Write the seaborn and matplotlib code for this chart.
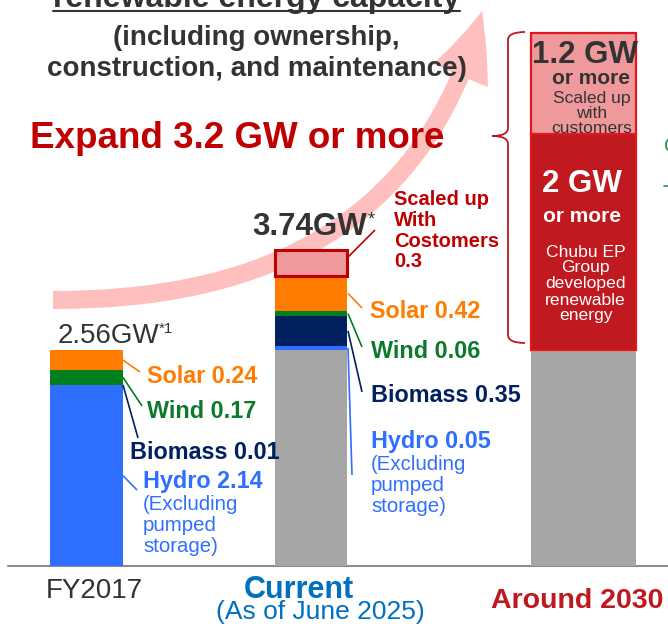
import numpy as np
import pandas as pd
import matplotlib
matplotlib.use("Agg")
import matplotlib.pyplot as plt
import seaborn as sns
from matplotlib.path import Path
from matplotlib.patches import FancyArrowPatch, PathPatch

# ---------------- data ----------------
periods = ["FY2017", "Current", "Around 2030"]
fy2017_segments = ["Hydro", "Biomass", "Wind", "Solar"]
fy2017_values = [2.14, 0.01, 0.17, 0.24]
current_segments = ["Base", "Hydro", "Biomass", "Wind", "Solar", "Customers"]
current_values = [2.56, 0.05, 0.35, 0.06, 0.42, 0.30]
y2030_segments = ["Base", "Group", "Customers"]
# drawn heights (labels: "2 GW or more", "1.2 GW or more")
y2030_values = [2.56, 2.56, 1.2]
fy2017_labels = ["Hydro 2.14", "Biomass 0.01", "Wind 0.17", "Solar 0.24"]
current_labels = ["Hydro 0.05", "Biomass 0.35", "Wind 0.06", "Solar 0.42"]
total_labels = ["2.56GW", "3.74GW"]

seg_colors = {"Base": "#a6a6a6", "Hydro": "#2f6fff", "Biomass": "#002060",
              "Wind": "#00801f", "Solar": "#ff7c00", "Customers": "#f0999c",
              "Group": "#c0191f"}
text_colors = {"Hydro": "#2f6fff", "Biomass": "#002060", "Wind": "#0b7a2b",
               "Solar": "#ff7c00"}

rows = []
for p, segs, vals in zip(periods, [fy2017_segments, current_segments, y2030_segments],
                         [fy2017_values, current_values, y2030_values]):
    b = 0.0
    for s, v in zip(segs, vals):
        rows.append(dict(period=p, segment=s, value=v, bottom=b))
        b += v
df = pd.DataFrame(rows)

# ---------------- layout ----------------
W, H = 668, 627
BASE = 566.0      # pixel row of the baseline
K = 84.4          # pixels per GW
bar_x = {"FY2017": 86.5, "Current": 311.0, "Around 2030": 583.5}
bar_w = {"FY2017": 73.0, "Current": 72.0, "Around 2030": 105.0}


def dy(py):
    return (BASE - py) / K


sns.set_style("white")
plt.rcParams["font.family"] = ["Liberation Sans", "DejaVu Sans"]

fig = plt.figure(figsize=(W / 100, H / 100), dpi=100)
ax = fig.add_axes([0, 0, 1, 1])

# big pink arrow (behind everything)
P0, P1, P2 = (53, 300), (406.7, 301), (482, 11)
arrow_path = Path([(P0[0], dy(P0[1])), (P1[0], dy(P1[1])), (P2[0], dy(P2[1]))],
                  [Path.MOVETO, Path.CURVE3, Path.CURVE3])
arrow = FancyArrowPatch(path=arrow_path, transform=ax.transData,
                        arrowstyle="simple,head_length=49,head_width=43,tail_width=13",
                        mutation_scale=1, color="#ffbfbf", lw=0, zorder=0)
ax.add_patch(arrow)

# stacked bars
for _, r in df.iterrows():
    ec, lw = "none", 0
    if r.segment == "Customers" and r.period == "Current":
        ec, lw = "#c00000", 2.2
    elif r.period == "Around 2030" and r.segment in ("Customers", "Group"):
        ec, lw = "#e3161e", 1.6
    sns.barplot(x=[bar_x[r.period]], y=[r.value], bottom=r.bottom,
                width=bar_w[r.period], native_scale=True,
                color=seg_colors[r.segment], saturation=1, errorbar=None,
                edgecolor=ec, linewidth=lw, ax=ax, zorder=2)

ax.axhline(0, xmin=8 / W, xmax=1, color="#8c8c8c", lw=1.5, zorder=1)


def T(px, py, s, **kw):
    kw.setdefault("va", "baseline")
    kw.setdefault("zorder", 4)
    ax.text(px, dy(py), s, **kw)


def L(x0, y0, x1, py1, color):
    ax.plot([x0, x1], [y0, dy(py1)], color=color, lw=1.2, zorder=3,
            solid_capstyle="butt")


DARK = "#333333"
RED = "#c00000"

# titles
T(256.5, 7, "renewable energy capacity", ha="center", fontsize=23,
  fontweight="bold", color=DARK)
ax.plot([53, 460], [dy(11), dy(11)], color=DARK, lw=1.5, zorder=4)
T(256.5, 45, "(including ownership,", ha="center", fontsize=20,
  fontweight="bold", color=DARK)
T(256.5, 76, "construction, and maintenance)", ha="center", fontsize=20,
  fontweight="bold", color=DARK)
T(237.5, 148, "Expand 3.2 GW or more", ha="center", fontsize=26.5,
  fontweight="bold", color=RED)

# ---------------- FY2017 annotations ----------------
sub = df[df.period == "FY2017"].set_index("segment")
xr = bar_x["FY2017"] + bar_w["FY2017"] / 2
mid = lambda s, d: d.loc[s, "bottom"] + d.loc[s, "value"] / 2
L(xr, mid("Solar", sub), 140, 372, seg_colors["Solar"])
L(xr, mid("Wind", sub), 142, 406, seg_colors["Wind"])
L(xr, mid("Biomass", sub), 138, 438, seg_colors["Biomass"])
L(xr, mid("Hydro", sub), 137, 490, seg_colors["Hydro"])
T(147, 383, fy2017_labels[3], fontsize=16.8, fontweight="bold", color=text_colors["Solar"])
T(147, 418, fy2017_labels[2], fontsize=16.8, fontweight="bold", color=text_colors["Wind"])
T(130, 459, fy2017_labels[1], fontsize=16.8, fontweight="bold", color=text_colors["Biomass"])
T(143, 488, fy2017_labels[0], fontsize=16.8, fontweight="bold", color=text_colors["Hydro"])
for py, s in zip([510, 531, 552], ["(Excluding", "pumped", "storage)"]):
    T(143, py, s, fontsize=14.7, color=text_colors["Hydro"])
T(58, 343, total_labels[0], fontsize=20, color=DARK)
T(159, 333, "*1", fontsize=11, color=DARK)

# ---------------- Current annotations ----------------
sub = df[df.period == "Current"].set_index("segment")
xr = bar_x["Current"] + bar_w["Current"] / 2 + 1
L(xr, sub.loc["Customers", "bottom"] + 0.22, 375, 230, RED)
L(xr, mid("Solar", sub), 362, 308, seg_colors["Solar"])
L(xr, mid("Wind", sub), 362, 347, seg_colors["Wind"])
L(xr, mid("Biomass", sub), 362, 392, seg_colors["Biomass"])
L(xr, mid("Hydro", sub), 352, 475, seg_colors["Hydro"])
T(370, 318, current_labels[3], fontsize=16.8, fontweight="bold", color=text_colors["Solar"])
T(371, 358, current_labels[2], fontsize=16.8, fontweight="bold", color=text_colors["Wind"])
T(371, 402, current_labels[1], fontsize=16.8, fontweight="bold", color=text_colors["Biomass"])
T(371, 448, current_labels[0], fontsize=16.8, fontweight="bold", color=text_colors["Hydro"])
for py, s in zip([470, 491, 512], ["(Excluding", "pumped", "storage)"]):
    T(371, py, s, fontsize=14.7, color=text_colors["Hydro"])
for py, s in zip([205, 226, 247, 267], ["Scaled up", "With", "Costomers", "0.3"]):
    T(394, py, s, fontsize=14.5, fontweight="bold", color=RED)
T(252, 235, total_labels[1], fontsize=22.5, fontweight="bold", color=DARK)
T(368, 224, "*", fontsize=13, color=DARK)

# ---------------- Around 2030 annotations ----------------
T(585.5, 63, "1.2 GW", ha="center", fontsize=22.5, fontweight="bold", color=DARK)
T(591, 84, "or more", ha="center", fontsize=15, fontweight="bold", color=DARK)
for py, s in zip([103, 118, 133], ["Scaled up", "with", "customers"]):
    T(591.5, py, s, ha="center", fontsize=12.6, color=DARK)
T(581.7, 192, "2 GW", ha="center", fontsize=22.5, fontweight="bold", color="white")
T(581.8, 222, "or more", ha="center", fontsize=15, fontweight="bold", color="white")
for py, s in zip([257, 272, 288, 305, 320],
                 ["Chubu EP", "Group", "developed", "renewable", "energy"]):
    T(585.5, py, s, ha="center", fontsize=12.6, color="white")

# curly brace
bx, btop, bmid, bbot = 508, 32, 136, 343
verts = [(525, btop), (bx, btop), (bx, btop + 8),
         (bx, bmid - 8), (bx, bmid), (492, bmid),
         (bx, bmid), (bx, bmid + 8),
         (bx, bbot - 8), (bx, bbot), (525, bbot)]
codes = [Path.MOVETO, Path.CURVE3, Path.CURVE3,
         Path.LINETO, Path.CURVE3, Path.CURVE3,
         Path.CURVE3, Path.CURVE3,
         Path.LINETO, Path.CURVE3, Path.CURVE3]
brace = PathPatch(Path([(x, dy(y)) for x, y in verts], codes),
                  facecolor="none", edgecolor="#c0181f", lw=1.3, zorder=3)
ax.add_patch(brace)

# cut-off text at right edge
T(664, 152, "C", fontsize=15, color="#2e8b57")
ax.plot([664, 668], [dy(186), dy(186)], color="#2e8b57", lw=1.2, zorder=3)

# ---------------- x labels ----------------
T(94, 598, periods[0], ha="center", fontsize=20, color=DARK)
T(299.3, 598, periods[1], ha="center", fontsize=22, fontweight="bold", color="#0070c0")
T(320.6, 619, "(As of June 2025)", ha="center", fontsize=19, color="#0070c0")
T(577.3, 608, periods[2], ha="center", fontsize=20.5, fontweight="bold", color="#c0181f")

ax.set_xlim(0, W)
ax.set_ylim(dy(H), dy(0))
ax.set_axis_off()
fig.savefig("out.png", dpi=100)
